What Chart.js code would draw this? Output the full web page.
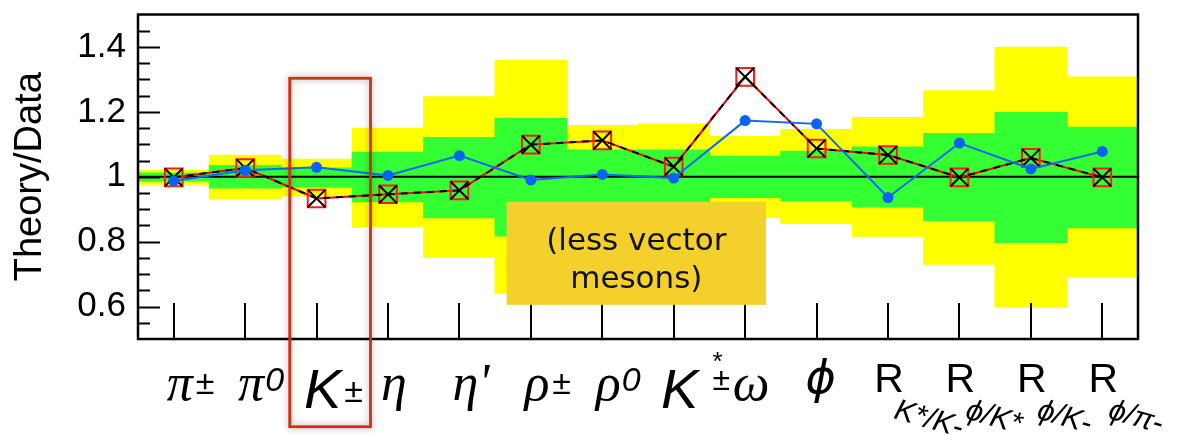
<!DOCTYPE html>
<html>
<head>
<meta charset="utf-8">
<script src="https://cdn.jsdelivr.net/npm/chart.js@4.4.1/dist/chart.umd.min.js"></script>
<style>
  html, body { margin: 0; padding: 0; background: #fff; }
</style>
</head>
<body>
<canvas id="ratioChart" width="1178" height="436"></canvas>
<script>
// particle labels: ^ = superscript, _ = subscript
const categories = ['π^±', 'π^0', 'K^±', 'η', "η'", 'ρ^±', 'ρ^0', 'K^*±', 'ω', 'φ', 'R_K*/K-', 'R_φ/K*', 'R_φ/K-', 'R_φ/π-'];
const modelBlue = [0.987, 1.020, 1.029, 1.004, 1.065, 0.990, 1.007, 0.996, 1.173, 1.163, 0.936, 1.104, 1.024, 1.078];
const modelRed = [0.998, 1.027, 0.933, 0.946, 0.958, 1.099, 1.112, 1.031, 1.308, 1.087, 1.067, 0.998, 1.058, 0.998];
const yellowLow = [0.977, 0.933, 0.941, 0.847, 0.752, 0.642, 0.840, 0.840, 0.875, 0.856, 0.817, 0.731, 0.600, 0.692];
const yellowHigh = [1.020, 1.066, 1.054, 1.149, 1.246, 1.359, 1.158, 1.162, 1.124, 1.145, 1.182, 1.265, 1.399, 1.307];
const greenLow = [0.987, 0.966, 0.969, 0.923, 0.874, 0.818, 0.915, 0.915, 0.936, 0.926, 0.907, 0.865, 0.798, 0.843];
const greenHigh = [1.011, 1.034, 1.027, 1.075, 1.121, 1.179, 1.082, 1.082, 1.063, 1.078, 1.091, 1.133, 1.198, 1.152];
const yTicks = [0.6, 0.8, 1, 1.2, 1.4];

const SANS = '"Liberation Sans", Arial, sans-serif';
const phi = s => s.replace(/φ/g, 'ϕ'); // straight-stroke phi as in the original figure

function drawLabel(ctx, text, x) {
  let base = text[0];
  let i = 1;
  if (text[i] === "'") { base += "'"; i++; }
  const mode = text[i];
  const rest = text.slice(i + 1);
  let font, baseline, cx;
  if (base === 'K') { font = 'italic 56px ' + SANS; baseline = 408; cx = x + 6; }
  else if (base === 'R') { font = '41px ' + SANS; baseline = 392; cx = x + 1; }
  else if (base === 'φ') { font = 'italic 46px "DejaVu Sans", sans-serif'; baseline = 393; cx = x + 4; }
  else { font = 'italic 52px "Liberation Serif", serif'; baseline = 400; cx = x + 6; }
  ctx.font = font;
  base = phi(base);
  const w0 = ctx.measureText(base[0]).width;
  const left = cx - w0 / 2;
  ctx.textAlign = 'left';
  ctx.fillText(base, left, baseline);
  const right = left + ctx.measureText(base).width;
  if (mode === '^') {
    if (rest === '0') {
      ctx.font = 'italic 34px ' + SANS;
      ctx.fillText('0', right + 1, baseline - 9);
    } else if (rest === '*±') {
      ctx.font = '26px ' + SANS;
      ctx.fillText('*', right + 14, baseline - 38);
      ctx.font = 'italic 32px ' + SANS;
      ctx.fillText('±', right + 14, baseline - 18);
    } else {
      ctx.font = 'italic 34px ' + SANS;
      ctx.fillText(rest, right + 3, baseline - 6);
    }
  } else if (mode === '_') {
    ctx.save();
    ctx.translate(right - 11, baseline + 26);
    ctx.rotate(16 * Math.PI / 180);
    ctx.font = 'italic 30px ' + SANS;
    ctx.fillText(phi(rest), 0, 0);
    ctx.restore();
  }
}

const decorations = {
  id: 'decorations',
  afterDatasetDraw(chart, args) {
    if (args.index !== 1) return;
    // reference line at 1, between the bands and the model curves
    const { ctx, chartArea: a, scales: { y } } = chart;
    const py = y.getPixelForValue(1);
    ctx.save();
    ctx.strokeStyle = '#000';
    ctx.lineWidth = 2;
    ctx.beginPath();
    ctx.moveTo(a.left, py);
    ctx.lineTo(a.right, py);
    ctx.stroke();
    ctx.restore();
  },
  afterDraw(chart) {
    const { ctx, chartArea: a, scales: { x, y } } = chart;
    ctx.save();
    ctx.strokeStyle = '#000';
    ctx.lineWidth = 2;
    // y ticks inside the frame, major every 0.2, minor every 0.05
    for (let k = 11; k < 30; k++) {
      const py = Math.round(y.getPixelForValue(k / 20)) + 0.5;
      const len = k % 4 === 0 ? 22 : 12;
      ctx.beginPath();
      ctx.moveTo(a.left, py);
      ctx.lineTo(a.left + len, py);
      ctx.stroke();
    }
    // x ticks rising from the bottom
    categories.forEach((c, i) => {
      const px = Math.round(x.getPixelForValue(i));
      ctx.beginPath();
      ctx.moveTo(px, a.bottom);
      ctx.lineTo(px, a.bottom - 36);
      ctx.stroke();
    });
    ctx.lineWidth = 2.5;
    ctx.strokeRect(a.left, a.top, a.right - a.left, a.bottom - a.top);

    // category labels
    ctx.fillStyle = '#000';
    ctx.textBaseline = 'alphabetic';
    categories.forEach((c, i) => drawLabel(ctx, c, x.getPixelForValue(i)));

    // note box
    const bx0 = x.getPixelForValue(4.661), bx1 = x.getPixelForValue(8.292);
    const by0 = y.getPixelForValue(0.9227), by1 = y.getPixelForValue(0.6052);
    ctx.fillStyle = '#f4d02c';
    ctx.fillRect(bx0, by0, bx1 - bx0, by1 - by0);
    ctx.fillStyle = '#111';
    ctx.font = '31px "DejaVu Sans", sans-serif';
    ctx.textAlign = 'center';
    ctx.fillText('(less vector', (bx0 + bx1) / 2, by0 + 48);
    ctx.fillText('mesons)', (bx0 + bx1) / 2, by0 + 86);

    // highlight around K±
    const rx0 = x.getPixelForValue(1.624), rx1 = x.getPixelForValue(2.755);
    const ry0 = y.getPixelForValue(1.3035), ry1 = y.getPixelForValue(0.2296);
    ctx.shadowColor = 'rgba(0,0,0,0.35)';
    ctx.shadowBlur = 7;
    ctx.strokeStyle = '#d12e12';
    ctx.lineWidth = 2.8;
    ctx.strokeRect(rx0, ry0, rx1 - rx0, ry1 - ry0);
    ctx.restore();
  }
};

new Chart(document.getElementById('ratioChart'), {
  type: 'bar',
  data: {
    labels: categories,
    datasets: [
      { label: 'band 2', data: categories.map((c, i) => [yellowLow[i], yellowHigh[i]]), backgroundColor: '#ffff00', order: 5 },
      { label: 'band 1', data: categories.map((c, i) => [greenLow[i], greenHigh[i]]), backgroundColor: '#33ff33', order: 4 },
      { type: 'line', label: 'red', data: modelRed, borderColor: '#ff0000', borderWidth: 2, pointStyle: 'rect', pointRadius: 12.5, pointBorderColor: '#ff1a1a', pointBackgroundColor: 'rgba(0,0,0,0)', pointBorderWidth: 2, order: 3 },
      { type: 'line', label: 'black', data: modelRed, borderColor: '#000', borderWidth: 2, borderDash: [7, 6], pointStyle: 'crossRot', pointRadius: 12.5, pointBorderColor: '#000', pointBorderWidth: 2, order: 2 },
      { type: 'line', label: 'blue', data: modelBlue, borderColor: '#1466f5', borderWidth: 2, pointStyle: 'circle', pointRadius: 5.5, pointBackgroundColor: '#0b63f6', pointBorderWidth: 0, order: 1 }
    ]
  },
  options: {
    responsive: false,
    animation: false,
    layout: { padding: { top: 13, right: 40, bottom: 97, left: 0 } },
    datasets: {
      bar: { grouped: false, categoryPercentage: 1, barPercentage: 1, borderWidth: 0, borderSkipped: false, inflateAmount: 0.6 }
    },
    plugins: { legend: { display: false }, tooltip: { enabled: false } },
    scales: {
      x: { display: false, offset: true },
      y: {
        min: 0.5, max: 1.5,
        afterBuildTicks: s => { s.ticks = yTicks.map(v => ({ value: v })); },
        afterFit: s => { s.width = 138; s.paddingTop = 0; s.paddingBottom = 0; },
        grid: { display: false, drawTicks: false },
        border: { display: false },
        ticks: { padding: 12, color: '#000', font: { family: 'Liberation Sans', size: 35 }, callback: v => String(v) },
        title: { display: true, text: 'Theory/Data', color: '#000', font: { family: 'Liberation Sans', size: 38 }, padding: { top: 8, bottom: 0 } }
      }
    }
  },
  plugins: [decorations]
});
</script>
</body>
</html>
